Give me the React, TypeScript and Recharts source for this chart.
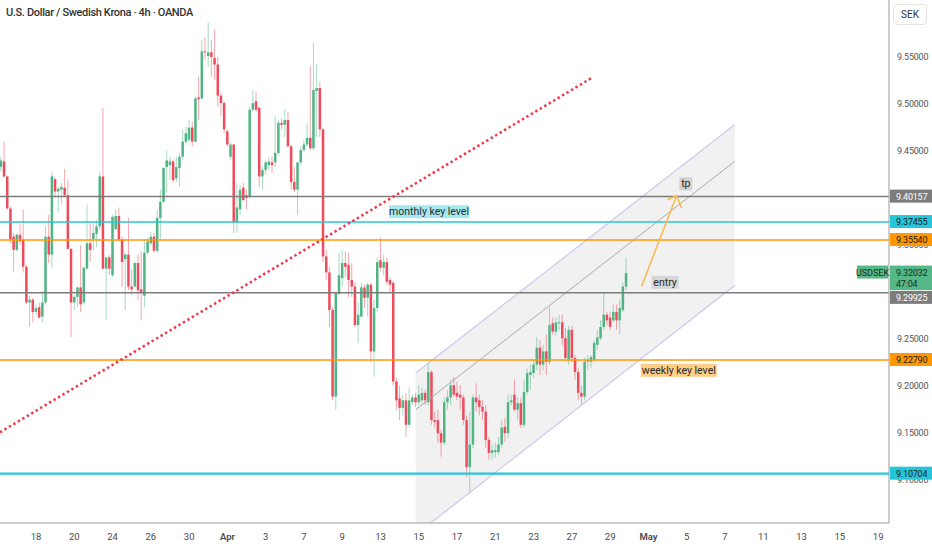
import React from "react";
import {
  ComposedChart,
  Bar,
  Area,
  XAxis,
  YAxis,
  ReferenceLine,
  ReferenceDot,
} from "recharts";

type Ohlc = [number, number, number, number];

// 4h candles: open, high, low, close
const candlesMar18: Ohlc[] = [
  [9.433, 9.444, 9.428, 9.44], [9.439, 9.46, 9.422, 9.423], [9.423, 9.424, 9.388, 9.389],
  [9.389, 9.391, 9.352, 9.356], [9.359, 9.363, 9.322, 9.345], [9.345, 9.363, 9.343, 9.361],
  [9.361, 9.372, 9.35, 9.354], [9.356, 9.388, 9.321, 9.327], [9.327, 9.329, 9.287, 9.289],
  [9.289, 9.296, 9.263, 9.292], [9.292, 9.294, 9.268, 9.279], [9.279, 9.287, 9.276, 9.283],
  [9.284, 9.289, 9.272, 9.273], [9.274, 9.301, 9.268, 9.289], [9.289, 9.37, 9.287, 9.359],
  [9.359, 9.382, 9.331, 9.34], [9.34, 9.428, 9.326, 9.423], [9.42, 9.422, 9.401, 9.407],
  [9.407, 9.412, 9.385, 9.41], [9.409, 9.416, 9.393, 9.412], [9.411, 9.431, 9.401, 9.403],
  [9.403, 9.42, 9.345, 9.346], [9.346, 9.347, 9.252, 9.289], [9.289, 9.297, 9.281, 9.295],
  [9.295, 9.306, 9.284, 9.305], [9.305, 9.35, 9.279, 9.287], [9.289, 9.327, 9.287, 9.326],
  [9.325, 9.393, 9.324, 9.352], [9.352, 9.374, 9.332, 9.345], [9.356, 9.372, 9.345, 9.363],
  [9.362, 9.377, 9.348, 9.37], [9.37, 9.427, 9.366, 9.423], [9.423, 9.496, 9.324, 9.325],
  [9.325, 9.337, 9.27, 9.337], [9.337, 9.34, 9.318, 9.325], [9.318, 9.382, 9.316, 9.38],
  [9.367, 9.388, 9.366, 9.381], [9.381, 9.39, 9.354, 9.356], [9.356, 9.359, 9.306, 9.332],
  [9.335, 9.342, 9.281, 9.34], [9.34, 9.379, 9.302, 9.306], [9.306, 9.324, 9.297, 9.303],
  [9.306, 9.332, 9.305, 9.331], [9.331, 9.34, 9.292, 9.302], [9.303, 9.344, 9.27, 9.299],
  [9.296, 9.356, 9.284, 9.342], [9.342, 9.358, 9.34, 9.354], [9.352, 9.364, 9.35, 9.359],
  [9.359, 9.363, 9.342, 9.344], [9.344, 9.388, 9.342, 9.379],
];

const candlesMar27: Ohlc[] = [
  [9.379, 9.409, 9.356, 9.396], [9.396, 9.433, 9.395, 9.432], [9.433, 9.451, 9.406, 9.44],
  [9.435, 9.444, 9.419, 9.439], [9.439, 9.441, 9.417, 9.419], [9.421, 9.444, 9.417, 9.433],
  [9.432, 9.448, 9.412, 9.444], [9.444, 9.473, 9.441, 9.46], [9.46, 9.476, 9.457, 9.469],
  [9.462, 9.483, 9.459, 9.475], [9.475, 9.481, 9.455, 9.46], [9.46, 9.508, 9.459, 9.506],
  [9.507, 9.529, 9.483, 9.505], [9.506, 9.568, 9.505, 9.556], [9.556, 9.571, 9.547, 9.555],
  [9.551, 9.587, 9.54, 9.555], [9.555, 9.568, 9.529, 9.55], [9.549, 9.579, 9.526, 9.542],
  [9.542, 9.55, 9.497, 9.509], [9.509, 9.512, 9.487, 9.501], [9.501, 9.503, 9.469, 9.473],
  [9.471, 9.473, 9.455, 9.457], [9.444, 9.459, 9.441, 9.457], [9.457, 9.457, 9.363, 9.374],
  [9.374, 9.416, 9.363, 9.39], [9.388, 9.414, 9.382, 9.409], [9.411, 9.416, 9.396, 9.398],
  [9.403, 9.409, 9.388, 9.4], [9.401, 9.497, 9.4, 9.494], [9.494, 9.515, 9.492, 9.501],
  [9.503, 9.513, 9.491, 9.494], [9.496, 9.497, 9.412, 9.423], [9.423, 9.433, 9.409, 9.43],
  [9.43, 9.441, 9.425, 9.438], [9.435, 9.443, 9.43, 9.439], [9.438, 9.444, 9.427, 9.435],
  [9.438, 9.487, 9.433, 9.448], [9.448, 9.483, 9.446, 9.48], [9.48, 9.485, 9.473, 9.478],
  [9.478, 9.494, 9.465, 9.483], [9.483, 9.492, 9.454, 9.455], [9.455, 9.457, 9.409, 9.417],
  [9.417, 9.433, 9.406, 9.409], [9.409, 9.438, 9.382, 9.438], [9.438, 9.455, 9.435, 9.451],
  [9.451, 9.462, 9.449, 9.457], [9.457, 9.48, 9.455, 9.464], [9.464, 9.54, 9.451, 9.453],
  [9.453, 9.565, 9.451, 9.515], [9.514, 9.542, 9.465, 9.517],
];

const candlesApr8: Ohlc[] = [
  [9.517, 9.524, 9.465, 9.473], [9.473, 9.475, 9.332, 9.338], [9.338, 9.345, 9.313, 9.321],
  [9.321, 9.327, 9.263, 9.281], [9.281, 9.284, 9.185, 9.189], [9.189, 9.3, 9.175, 9.299],
  [9.298, 9.342, 9.297, 9.318], [9.315, 9.345, 9.306, 9.331], [9.331, 9.343, 9.316, 9.327],
  [9.329, 9.342, 9.295, 9.313], [9.313, 9.331, 9.295, 9.306], [9.306, 9.311, 9.263, 9.265],
  [9.265, 9.289, 9.246, 9.276], [9.274, 9.31, 9.273, 9.305], [9.305, 9.308, 9.283, 9.294],
  [9.294, 9.31, 9.274, 9.308], [9.308, 9.31, 9.226, 9.237], [9.237, 9.292, 9.21, 9.283],
  [9.283, 9.337, 9.279, 9.332], [9.334, 9.358, 9.322, 9.326], [9.326, 9.34, 9.318, 9.332],
  [9.332, 9.337, 9.308, 9.311], [9.313, 9.316, 9.3, 9.308], [9.31, 9.312, 9.201, 9.205],
  [9.205, 9.209, 9.175, 9.185], [9.187, 9.201, 9.164, 9.177], [9.177, 9.191, 9.169, 9.185],
  [9.185, 9.193, 9.146, 9.159], [9.159, 9.199, 9.156, 9.185], [9.183, 9.191, 9.18, 9.188],
  [9.188, 9.193, 9.178, 9.183], [9.183, 9.201, 9.18, 9.191], [9.185, 9.198, 9.182, 9.193],
  [9.193, 9.196, 9.18, 9.185], [9.183, 9.226, 9.18, 9.215], [9.215, 9.217, 9.159, 9.164],
  [9.164, 9.173, 9.156, 9.162], [9.164, 9.175, 9.14, 9.15], [9.15, 9.154, 9.125, 9.14],
  [9.14, 9.188, 9.138, 9.183], [9.183, 9.196, 9.175, 9.188], [9.188, 9.207, 9.18, 9.201],
  [9.201, 9.21, 9.189, 9.191], [9.193, 9.205, 9.185, 9.189], [9.191, 9.201, 9.175, 9.188],
  [9.188, 9.191, 9.159, 9.164], [9.164, 9.169, 9.103, 9.114], [9.114, 9.173, 9.086, 9.138],
  [9.138, 9.191, 9.134, 9.188], [9.188, 9.203, 9.173, 9.183],
];

const candlesApr21: Ohlc[] = [
  [9.185, 9.191, 9.169, 9.178], [9.178, 9.185, 9.164, 9.173], [9.173, 9.18, 9.135, 9.143],
  [9.143, 9.146, 9.122, 9.129], [9.129, 9.138, 9.122, 9.132], [9.13, 9.14, 9.124, 9.132],
  [9.13, 9.146, 9.127, 9.138], [9.138, 9.164, 9.135, 9.156], [9.157, 9.166, 9.141, 9.15],
  [9.15, 9.191, 9.145, 9.183], [9.183, 9.191, 9.18, 9.185], [9.191, 9.207, 9.173, 9.175],
  [9.175, 9.188, 9.164, 9.182], [9.182, 9.188, 9.156, 9.159], [9.159, 9.207, 9.156, 9.194],
  [9.194, 9.219, 9.191, 9.214], [9.212, 9.223, 9.196, 9.215], [9.214, 9.228, 9.209, 9.223],
  [9.223, 9.252, 9.217, 9.241], [9.241, 9.249, 9.212, 9.223], [9.223, 9.244, 9.217, 9.237],
  [9.237, 9.255, 9.212, 9.226], [9.226, 9.284, 9.223, 9.265], [9.267, 9.273, 9.255, 9.258],
  [9.258, 9.273, 9.254, 9.268], [9.267, 9.276, 9.26, 9.268], [9.268, 9.276, 9.244, 9.251],
  [9.251, 9.262, 9.226, 9.23], [9.228, 9.264, 9.223, 9.26], [9.26, 9.264, 9.226, 9.23],
  [9.23, 9.233, 9.207, 9.215], [9.215, 9.219, 9.185, 9.193], [9.193, 9.201, 9.18, 9.189],
  [9.189, 9.23, 9.185, 9.226], [9.226, 9.233, 9.217, 9.228], [9.226, 9.233, 9.22, 9.231],
  [9.228, 9.249, 9.226, 9.246], [9.244, 9.26, 9.239, 9.252], [9.251, 9.27, 9.249, 9.263],
  [9.263, 9.3, 9.26, 9.276], [9.276, 9.279, 9.265, 9.27], [9.273, 9.279, 9.26, 9.263],
  [9.27, 9.287, 9.268, 9.279], [9.279, 9.287, 9.26, 9.27], [9.27, 9.292, 9.255, 9.283],
  [9.281, 9.31, 9.279, 9.306], [9.306, 9.337, 9.302, 9.32032],
];

// bar index of each date label on the time axis
const xTickIndex = [11, 23, 35, 47, 59, 71, 83, 95, 107, 119, 131, 143, 155, 167, 179, 191, 203, 215, 227, 239, 251, 263, 275];
const xTickLabels = ["18", "20", "24", "26", "30", "Apr", "3", "7", "9", "13", "15", "17", "21", "23", "27", "29", "May", "5", "7", "11", "13", "15", "19"];
// 9.30000 and 9.40000 sit fully under the level tags
const priceTicks = [9.1, 9.15, 9.2, 9.25, 9.35, 9.45, 9.5, 9.55];

const levelPrices = [9.40157, 9.37455, 9.3554, 9.29925, 9.2279, 9.10704];
const lastPrice = 9.32032;
const countdown = "47:04";

// drawn objects (bar index / price)
const channelIndex = [130, 230];
const channelLower = [9.042, 9.307];
const channelUpper = [9.214, 9.478];
const channelMiddle = [9.175, 9.439];
const trendIndex = [-0.3, 185.3];
const trendPrice = [9.151, 9.528];
const arrowIndex = [200.8, 211.8, 208.9, 213.4];
const arrowPrice = [9.306, 9.4025, 9.3982, 9.3894];
const noteTexts = ["monthly key level", "entry", "tp", "weekly key level"];
const noteIndex = [134.2, 208.2, 214.7, 212.5];
const notePrice = [9.3855, 9.3105, 9.4152, 9.2169];

const X_DOMAIN: [number, number] = [-0.3, 278.4];
const Y_DOMAIN: [number, number] = [9.0546, 9.6106];
const UP = "#4fb584";
const DOWN = "#ef4b5c";
const FONT = "Roboto, 'Noto Sans', sans-serif";

const levelStyle = [
  { stroke: "#7c7c7c", bg: "#7c7c7c", fg: "#ffffff", w: 1.5, shift: 0 },
  { stroke: "#26c6da", bg: "#26c6da", fg: "#1a1a1a", w: 1.5, shift: 0 },
  { stroke: "#ff9800", bg: "#ff9800", fg: "#1a1a1a", w: 1.5, shift: 0 },
  { stroke: "#7c7c7c", bg: "#7c7c7c", fg: "#ffffff", w: 1.5, shift: 5 },
  { stroke: "#ff9800", bg: "#ff9800", fg: "#1a1a1a", w: 1.5, shift: 0 },
  { stroke: "#26c6da", bg: "#26c6da", fg: "#1a1a1a", w: 2.2, shift: 0 },
];
const noteStyle = [
  { bg: "#a6e9f1", w: 80 },
  { bg: "#d6d6d6", w: 27 },
  { bg: "#d2d2d2", w: 13 },
  { bg: "#ffcd86", w: 76 },
];

const candles = [...candlesMar18, ...candlesMar27, ...candlesApr8, ...candlesApr21];
const rows = candles.map(([o, h, l, c], i) => ({ i, o, h, l, c, range: [l, h] }));
const channelRows = channelIndex.map((i, k) => ({ i, band: [channelLower[k], channelUpper[k]] }));

const Candle = (props: any) => {
  const { x, width, payload } = props;
  let { y, height } = props;
  if (!payload || payload.o == null || !isFinite(y) || !isFinite(height)) return null;
  if (height < 0) {
    y += height;
    height = -height;
  }
  const { o, h, l, c } = payload;
  const color = c >= o ? UP : DOWN;
  const k = h - l > 0 ? height / (h - l) : 0;
  const yOf = (v: number) => y + (h - v) * k;
  const cx = x + width / 2;
  const top = yOf(Math.max(o, c));
  const bottom = yOf(Math.min(o, c));
  return (
    <g>
      <line x1={cx} x2={cx} y1={y} y2={y + height} stroke={color} strokeOpacity={0.5} strokeWidth={1} />
      <rect x={cx - 1.25} y={top} width={2.5} height={Math.max(1, bottom - top)} fill={color} />
    </g>
  );
};

const XTick = ({ x, y, payload }: any) => {
  const label = xTickLabels[xTickIndex.indexOf(payload.value)];
  const bold = label === "Apr" || label === "May";
  return (
    <text x={x} y={y + 9} textAnchor="middle" fontSize={9.5} fill="#4a4a4a" fontWeight={bold ? 600 : 400} fontFamily={FONT}>
      {label}
    </text>
  );
};

const App = () => {
  return (
    <div style={{ position: "relative", width: 932, height: 550, background: "#fff", fontFamily: FONT }}>
      <style>{"body{margin:0}"}</style>
      <ComposedChart width={932} height={550} data={rows} margin={{ top: 0, right: 0, bottom: 0, left: 0 }}>
        <XAxis
          dataKey="i"
          type="number"
          domain={X_DOMAIN}
          allowDataOverflow
          ticks={xTickIndex}
          interval={0}
          tick={<XTick />}
          tickLine={false}
          axisLine={{ stroke: "#9a9a9a" }}
          height={27}
        />
        <YAxis
          orientation="right"
          type="number"
          domain={Y_DOMAIN}
          allowDataOverflow
          ticks={priceTicks}
          tick={false}
          tickLine={false}
          axisLine={{ stroke: "#9a9a9a" }}
          width={43}
        />

        {/* parallel channel */}
        <Area
          data={channelRows}
          dataKey="band"
          type="linear"
          stroke="none"
          fill="#e8e8e8"
          fillOpacity={0.6}
          dot={false}
          activeDot={false}
          isAnimationActive={false}
        />
        <ReferenceLine
          segment={[{ x: channelIndex[0], y: channelUpper[0] }, { x: channelIndex[1], y: channelUpper[1] }]}
          stroke="#cfc6ef"
          strokeWidth={1.2}
          ifOverflow="visible"
        />
        <ReferenceLine
          segment={[{ x: channelIndex[0], y: channelLower[0] }, { x: channelIndex[1], y: channelLower[1] }]}
          stroke="#cfc6ef"
          strokeWidth={1.2}
          ifOverflow="hidden"
        />
        <ReferenceLine
          segment={[{ x: channelIndex[0], y: channelMiddle[0] }, { x: channelIndex[1], y: channelMiddle[1] }]}
          stroke="#a8a8a8"
          strokeWidth={1}
          ifOverflow="visible"
        />

        {levelPrices.map((p, k) => (
          <ReferenceLine key={`lv${k}`} y={p} stroke={levelStyle[k].stroke} strokeWidth={levelStyle[k].w} ifOverflow="visible" />
        ))}

        <ReferenceLine
          segment={[{ x: trendIndex[0], y: trendPrice[0] }, { x: trendIndex[1], y: trendPrice[1] }]}
          stroke="#f23645"
          strokeWidth={2.5}
          strokeDasharray="2.4 2.8"
          ifOverflow="visible"
        />

        <Bar dataKey="range" barSize={3} shape={<Candle />} isAnimationActive={false} />

        {/* target arrow */}
        <ReferenceLine
          segment={[{ x: arrowIndex[0], y: arrowPrice[0] }, { x: arrowIndex[1], y: arrowPrice[1] }]}
          stroke="#ffb74d"
          strokeWidth={1.5}
          ifOverflow="visible"
        />
        <ReferenceLine
          segment={[{ x: arrowIndex[2], y: arrowPrice[2] }, { x: arrowIndex[1], y: arrowPrice[1] }]}
          stroke="#ffb74d"
          strokeWidth={1.5}
          ifOverflow="visible"
        />
        <ReferenceLine
          segment={[{ x: arrowIndex[3], y: arrowPrice[3] }, { x: arrowIndex[1], y: arrowPrice[1] }]}
          stroke="#ffb74d"
          strokeWidth={1.5}
          ifOverflow="visible"
        />

        {noteTexts.map((t, k) => (
          <ReferenceDot
            key={`note${k}`}
            x={noteIndex[k]}
            y={notePrice[k]}
            r={0}
            ifOverflow="visible"
            shape={(p: any) => (
              <g>
                <rect x={p.cx - noteStyle[k].w / 2} y={p.cy - 6.5} width={noteStyle[k].w} height={13} fill={noteStyle[k].bg} />
                <text x={p.cx} y={p.cy + 3.6} textAnchor="middle" fontSize={10.5} fill="#2a2a2a" fontFamily={FONT}>
                  {t}
                </text>
              </g>
            )}
          />
        ))}

        {/* price scale labels, drawn before the tags so the tags cover them */}
        {priceTicks.map((p) => (
          <ReferenceDot
            key={`tick${p}`}
            x={X_DOMAIN[1]}
            y={p}
            r={0}
            ifOverflow="visible"
            shape={(d: any) => (
              <text x={d.cx + 8} y={d.cy + 3.2} fontSize={9} letterSpacing={-0.2} fill="#555" fontFamily={FONT}>
                {p.toFixed(5)}
              </text>
            )}
          />
        ))}

        {levelPrices.map((p, k) => (
          <ReferenceDot
            key={`tag${k}`}
            x={X_DOMAIN[1]}
            y={p}
            r={0}
            ifOverflow="visible"
            shape={(d: any) => (
              <g>
                <rect x={d.cx + 1} y={d.cy - 7 + levelStyle[k].shift} width={42} height={13} fill={levelStyle[k].bg} />
                <text
                  x={d.cx + 7}
                  y={d.cy + 3.2 + levelStyle[k].shift}
                  fontSize={9}
                  letterSpacing={-0.2}
                  fill={levelStyle[k].fg}
                  fontFamily={FONT}
                >
                  {p.toFixed(5)}
                </text>
              </g>
            )}
          />
        ))}
        <ReferenceDot
          x={X_DOMAIN[1]}
          y={lastPrice}
          r={0}
          ifOverflow="visible"
          shape={(d: any) => (
            <g>
              <rect x={d.cx - 32} y={d.cy - 7.5} width={31} height={13} fill="#56b886" />
              <text x={d.cx - 16.5} y={d.cy + 2.8} textAnchor="middle" fontSize={9} fill="#16301f" fontFamily={FONT}>
                USDSEK
              </text>
              <rect x={d.cx + 1} y={d.cy - 7.5} width={42} height={24.5} fill="#56b886" />
              <text x={d.cx + 7} y={d.cy + 2.8} fontSize={9} letterSpacing={-0.2} fill="#16301f" fontFamily={FONT}>
                {lastPrice.toFixed(5)}
              </text>
              <text x={d.cx + 7} y={d.cy + 13.5} fontSize={9} letterSpacing={-0.2} fill="#16301f" fontFamily={FONT}>
                {countdown}
              </text>
            </g>
          )}
        />
      </ComposedChart>

      <div
        style={{
          position: "absolute",
          left: 6,
          top: 6,
          fontSize: 11,
          fontWeight: 500,
          color: "#333",
          letterSpacing: -0.35,
          whiteSpace: "nowrap",
        }}
      >
        U.S. Dollar / Swedish Krona · 4h · OANDA
      </div>
      <div
        style={{
          position: "absolute",
          left: 893,
          top: 4,
          width: 34,
          height: 21,
          border: "1px solid #e3e3e3",
          borderRadius: 4,
          boxSizing: "border-box",
          fontSize: 10,
          color: "#333",
          textAlign: "center",
          lineHeight: "19px",
          background: "#fff",
        }}
      >
        SEK
      </div>
    </div>
  );
};

export default App;
